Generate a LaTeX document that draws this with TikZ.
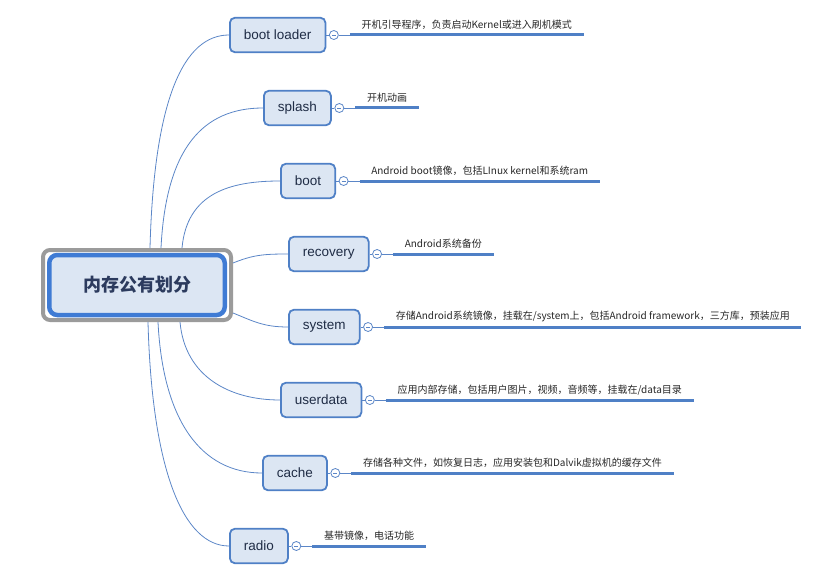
\documentclass[tikz,border=0pt]{standalone}
\usepackage{fontspec}
\setmainfont{Liberation Sans}
\newfontfamily\cjk{Noto Sans CJK SC}
\usetikzlibrary{calc}
\definecolor{boxfill}{HTML}{DCE6F3}
\definecolor{boxline}{HTML}{4F80C6}
\definecolor{boxtext}{HTML}{1F2C45}
\definecolor{linkline}{HTML}{5B86C7}
\definecolor{rootline}{HTML}{3F7BD4}
\definecolor{framegray}{HTML}{9B9B9B}
\definecolor{roottext}{HTML}{2C3B5E}
\tikzstyle{branche} = [rectangle, rounded corners=5pt, draw=boxline, line width=1.8pt, fill=boxfill, minimum height=34.5pt, inner xsep=14pt, anchor=west, text=boxtext, font=\fontsize{13.5}{16}\selectfont]
\tikzstyle{cadre} = [rectangle, rounded corners=7pt, draw=framegray, line width=4pt, fill=white, minimum width=188pt, minimum height=70pt]
\tikzstyle{racine} = [rectangle, rounded corners=8pt, draw=rootline, line width=4.5pt, fill=boxfill, minimum width=175.5pt, minimum height=60pt, text=roottext, font=\cjk\bfseries\fontsize{18}{22}\selectfont]
\tikzstyle{replier} = [circle, draw=linkline, fill=white, line width=0.8pt, minimum size=9pt, inner sep=0pt, path picture={\draw[linkline, line width=0.6pt] ([xshift=-2pt]path picture bounding box.center) -- ([xshift=2pt]path picture bounding box.center);}]
\tikzstyle{note} = [anchor=south west, inner xsep=11.5pt, inner ysep=5pt, text=black!85, font=\cjk\fontsize{10}{12}\selectfont]
\tikzstyle{lien} = [draw=linkline, line width=0.8pt]
\tikzstyle{trait} = [draw=boxline, line width=3pt]

\begin{document}
\begin{tikzpicture}[x=1pt, y=-1pt]

        \useasboundingbox (0,0) rectangle (814,575);

        % racine
        \node (cadre) [cadre] at (137,285) {};
        \node (root) [racine] at (137,285) {内存公有划分};

        % branches
        \node (bl) [branche] at (229,35) {boot loader};
        \node (sp) [branche] at (263,108) {splash};
        \node (bt) [branche] at (280,181) {boot};
        \node (rc) [branche] at (288,254) {recovery};
        \node (sy) [branche] at (288,327) {system};
        \node (ud) [branche] at (280,400) {userdata};
        \node (ca) [branche] at (262,473) {cache};
        \node (ra) [branche] at (229,546) {radio};

        \draw [lien] ([xshift=13pt]cadre.north) .. controls +(4,-150) and +(-45,0) .. (bl.west);
        \draw [lien] ([xshift=24pt]cadre.north) .. controls +(5,-100) and +(-60,0) .. (sp.west);
        \draw [lien] ([xshift=45pt]cadre.north) .. controls +(5,-55) and +(-50,0) .. (bt.west);
        \draw [lien] ([yshift=22pt]cadre.east) .. controls +(20,-8) and +(-25,0) .. (rc.west);
        \draw [lien] ([yshift=-28pt]cadre.east) .. controls +(20,8) and +(-25,0) .. (sy.west);
        \draw [lien] ([xshift=43pt]cadre.south) .. controls +(5,55) and +(-50,0) .. (ud.west);
        \draw [lien] ([xshift=21pt]cadre.south) .. controls +(5,100) and +(-60,0) .. (ca.west);
        \draw [lien] ([xshift=11pt]cadre.south) .. controls +(4,150) and +(-45,0) .. (ra.west);

        % notes
        \node (blc) [replier] at ($(bl.east)+(7.5,0)$) {};
        \node (bln) [note] at ($(blc.center)+(16,0)$) {开机引导程序，负责启动Kernel或进入刷机模式};
        \draw [lien] (bl.east) -- (blc.west);
        \draw [lien] (blc.east) -- (bln.south west);
        \draw [trait] (bln.south west) -- (bln.south east);

        \node (spc) [replier] at ($(sp.east)+(7.5,0)$) {};
        \node (spn) [note] at ($(spc.center)+(16,0)$) {开机动画};
        \draw [lien] (sp.east) -- (spc.west);
        \draw [lien] (spc.east) -- (spn.south west);
        \draw [trait] (spn.south west) -- (spn.south east);

        \node (btc) [replier] at ($(bt.east)+(7.5,0)$) {};
        \node (btn) [note] at ($(btc.center)+(16,0)$) {Android boot镜像，包括LInux kernel和系统ram};
        \draw [lien] (bt.east) -- (btc.west);
        \draw [lien] (btc.east) -- (btn.south west);
        \draw [trait] (btn.south west) -- (btn.south east);

        \node (rcc) [replier] at ($(rc.east)+(7.5,0)$) {};
        \node (rcn) [note] at ($(rcc.center)+(16,0)$) {Android系统备份};
        \draw [lien] (rc.east) -- (rcc.west);
        \draw [lien] (rcc.east) -- (rcn.south west);
        \draw [trait] (rcn.south west) -- (rcn.south east);

        \node (syc) [replier] at ($(sy.east)+(7.5,0)$) {};
        \node (syn) [note] at ($(syc.center)+(16,0)$) {存储Android系统镜像，挂载在/system上，包括Android framework，三方库，预装应用};
        \draw [lien] (sy.east) -- (syc.west);
        \draw [lien] (syc.east) -- (syn.south west);
        \draw [trait] (syn.south west) -- (syn.south east);

        \node (udc) [replier] at ($(ud.east)+(7.5,0)$) {};
        \node (udn) [note] at ($(udc.center)+(16,0)$) {应用内部存储，包括用户图片，视频，音频等，挂载在/data目录};
        \draw [lien] (ud.east) -- (udc.west);
        \draw [lien] (udc.east) -- (udn.south west);
        \draw [trait] (udn.south west) -- (udn.south east);

        \node (cac) [replier] at ($(ca.east)+(7.5,0)$) {};
        \node (can) [note] at ($(cac.center)+(16,0)$) {存储各种文件，如恢复日志，应用安装包和Dalvik虚拟机的缓存文件};
        \draw [lien] (ca.east) -- (cac.west);
        \draw [lien] (cac.east) -- (can.south west);
        \draw [trait] (can.south west) -- (can.south east);

        \node (rac) [replier] at ($(ra.east)+(7.5,0)$) {};
        \node (ran) [note] at ($(rac.center)+(16,0)$) {基带镜像，电话功能};
        \draw [lien] (ra.east) -- (rac.west);
        \draw [lien] (rac.east) -- (ran.south west);
        \draw [trait] (ran.south west) -- (ran.south east);

    \end{tikzpicture}
\end{document}
